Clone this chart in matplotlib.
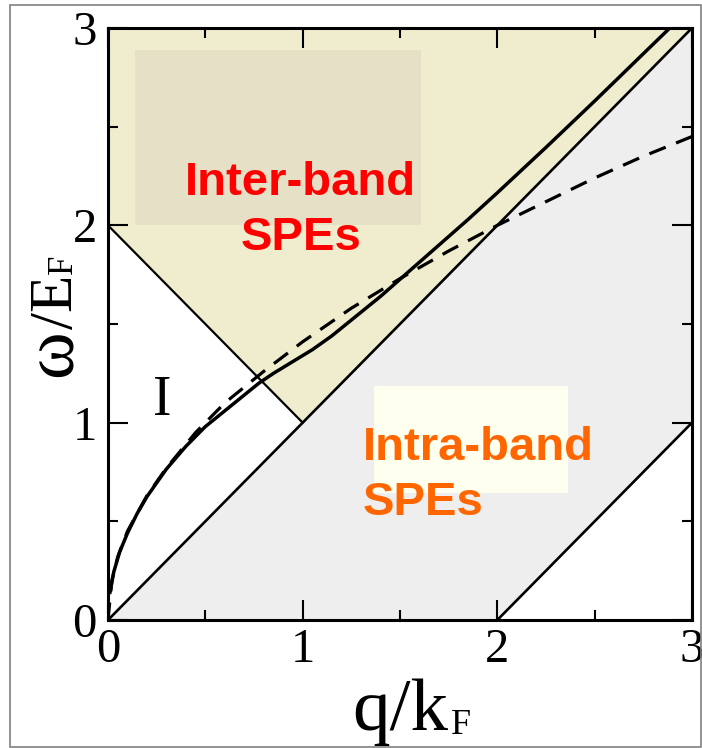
import numpy as np
import matplotlib
matplotlib.use("Agg")
import matplotlib.pyplot as plt
from matplotlib.patches import Rectangle
from matplotlib.ticker import MultipleLocator

# region boundaries (q/kF, w/EF)
inter_q = [0, 0, 1, 3]
inter_w = [3, 2, 1, 3]
intra_q = [0, 3, 3, 2]
intra_w = [0, 3, 1, 0]

# plasmon (solid)
plas_q = [0.01, 0.03, 0.06, 0.1, 0.15, 0.2, 0.3, 0.4, 0.5, 0.6, 0.7, 0.775, 0.85,
          0.95, 1.05, 1.15, 1.25, 1.4, 1.55, 1.7, 1.85, 2.0, 2.25, 2.5, 2.886]
plas_w = [0.14, 0.245, 0.345, 0.44, 0.54, 0.625, 0.765, 0.88, 0.98, 1.06, 1.14, 1.20, 1.25,
          1.31, 1.37, 1.44, 1.52, 1.64, 1.77, 1.90, 2.03, 2.165, 2.395, 2.63, 3.0]

# long-wavelength approximation (dashed)
lw_q = [0, 0.02, 0.05, 0.1, 0.2, 0.3, 0.45, 0.6, 0.8, 1.0, 1.25, 1.5, 1.75, 2.0, 2.25, 2.5, 2.75, 3.0]
lw_w = [0, 0.2, 0.32, 0.45, 0.63, 0.77, 0.95, 1.1, 1.26, 1.41, 1.58, 1.73, 1.87, 2.0, 2.12, 2.24, 2.35, 2.45]

W, H = 702, 748
fig = plt.figure(figsize=(W / 100, H / 100), dpi=100)
ax = fig.add_axes([108 / W, 1 - 620 / H, 584 / W, 592 / H])

def px(x, y):
    return x / W, 1 - y / H

ax.fill(inter_q, inter_w, color="#EFEDCD", lw=0, zorder=1)
ax.fill(intra_q, intra_w, color="#EEEEEE", lw=0, zorder=1)
ax.add_patch(Rectangle((0.14, 2.0), 1.47, 0.89, color="#E6E0C6", lw=0, zorder=1.5))
ax.add_patch(Rectangle((1.366, 0.644), 0.997, 0.542, color="#FEFFEE", lw=0, zorder=1.5))

ax.plot([0, 1], [2, 1], color="k", lw=1.6, zorder=3)
ax.plot([0, 3], [0, 3], color="k", lw=1.9, zorder=3)
ax.plot([2, 3], [0, 1], color="k", lw=1.9, zorder=3)
ax.plot(plas_q, plas_w, color="k", lw=2.5, zorder=4, solid_joinstyle="round")
ax.plot(lw_q, lw_w, color="k", lw=2.3, dashes=(5.5, 3.5), zorder=4)

ax.set_xlim(0, 3)
ax.set_ylim(0, 3)
ax.xaxis.set_major_locator(MultipleLocator(1))
ax.yaxis.set_major_locator(MultipleLocator(1))
ax.xaxis.set_minor_locator(MultipleLocator(0.5))
ax.yaxis.set_minor_locator(MultipleLocator(0.5))
ax.tick_params(which="both", direction="in", top=True, right=True, width=1.5)
ax.tick_params(which="major", length=14.5)
ax.tick_params(which="minor", length=7.2)
ax.tick_params(axis="x", pad=6)
ax.tick_params(axis="y", pad=8)
for lab in ax.get_xticklabels() + ax.get_yticklabels():
    lab.set_fontfamily("Liberation Serif")
    lab.set_fontsize(35)
for s in ax.spines.values():
    s.set_linewidth(2.2)
    s.set_zorder(5)

serif = "Liberation Serif"
ax.text(0.991, 2.154, "Inter-band", color="#FF0000", fontsize=34, fontweight="bold",
        family="Liberation Sans", ha="center", va="baseline", zorder=6)
ax.text(0.991, 1.875, "SPEs", color="#FF0000", fontsize=34, fontweight="bold",
        family="Liberation Sans", ha="center", va="baseline", zorder=6)
ax.text(1.31, 0.811, "Intra-band", color="#FF6600", fontsize=34, fontweight="bold",
        family="Liberation Sans", ha="left", va="baseline", zorder=6)
ax.text(1.31, 0.532, "SPEs", color="#FF6600", fontsize=34, fontweight="bold",
        family="Liberation Sans", ha="left", va="baseline", zorder=6)
ax.text(0.277, 1.039, "I", fontsize=40, family=serif, ha="center", va="baseline", zorder=6)

# axis labels, built from pieces so the subscript sits like the original
r = fig.canvas.get_renderer()
t = fig.text(*px(352, 730), "q/k", fontsize=54, family=serif, ha="left", va="baseline")
e = t.get_window_extent(r)
fig.text((e.x1 + 3) / W, 1 - 734 / H, "F", fontsize=26, family=serif, ha="left", va="baseline")

t = fig.text(*px(72, 377), "\u03c9", fontsize=52, family=serif, rotation=90,
             rotation_mode="anchor", ha="left", va="baseline")
e = t.get_window_extent(r)
t = fig.text(72 / W, e.y1 / H, "/E", fontsize=44, family=serif, rotation=90,
             rotation_mode="anchor", ha="left", va="baseline")
e = t.get_window_extent(r)
fig.text(72 / W, (e.y1 + 1) / H, "F", fontsize=25, family=serif, rotation=90,
         rotation_mode="anchor", ha="left", va="baseline")

fig.add_artist(Rectangle((10 / W, 1 / H), 691 / W, 742 / H, transform=fig.transFigure,
                         fill=False, edgecolor="#808080", lw=1.2))

fig.savefig("out.png", dpi=100)
